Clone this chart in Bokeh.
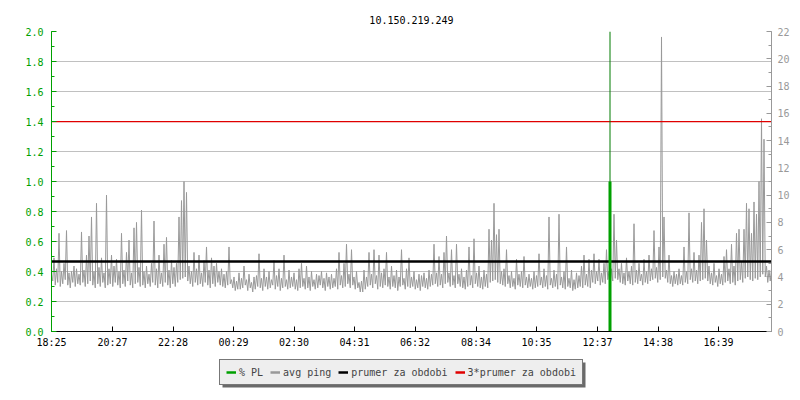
from bokeh.plotting import figure
from bokeh.layouts import column
from bokeh.models import (Range1d, LinearAxis, FixedTicker, Legend, LegendItem,
                          ColumnDataSource, CustomJSTickFormatter, BoxAnnotation)
from bokeh.embed import file_html
from bokeh.resources import INLINE

# ---------------- data ----------------
title_text = "10.150.219.249"
start_time = "18:25"
sample_step_min = 5
tick_labels = ["18:25", "20:27", "22:28", "00:29", "02:30", "04:31",
               "06:32", "08:34", "10:35", "12:37", "14:38", "16:39"]

# avg ping in ms, one sample per 5 minutes
avg_ping_ms = [
    4.2, 5.4, 4.6, 7.2, 4.4, 5.0, 7.4, 4.3, 4.4, 4.8, 4.6, 4.2,
    7.3, 4.5, 5.6, 7.0, 8.4, 4.4, 9.4, 4.7, 5.4, 4.3, 10.0, 4.6,
    5.6, 4.8, 5.3, 4.4, 7.2, 4.5, 5.8, 6.7, 4.3, 7.6, 8.0, 4.7,
    8.9, 4.4, 4.8, 4.2, 5.0, 8.1, 4.6, 5.6, 4.3, 6.4, 6.9, 4.5,
    5.2, 4.7, 5.0, 8.4, 9.6, 11.0, 10.2, 4.8, 4.4, 5.8, 4.6, 5.6,
    4.3, 5.2, 6.2, 4.5, 5.4, 4.8, 5.0, 4.4, 4.6, 4.2, 4.4, 6.2,
    3.8, 4.0, 3.7, 4.3, 3.9, 4.8, 3.8, 4.2, 3.6, 4.0, 4.1, 5.7,
    3.9, 4.6, 4.0, 4.4, 3.8, 5.2, 4.1, 4.6, 3.9, 5.6, 3.8, 4.5,
    4.0, 4.3, 3.8, 4.6, 5.0, 3.9, 4.8, 4.0, 4.4, 3.8, 4.2, 4.1,
    4.4, 3.9, 4.3, 4.0, 4.2, 3.9, 4.6, 5.8, 4.1, 5.0, 6.4, 4.2,
    6.0, 4.0, 4.4, 3.6, 3.7, 4.5, 4.0, 5.8, 4.2, 6.0, 4.1, 5.6,
    4.3, 4.6, 5.8, 4.0, 4.8, 4.1, 4.5, 4.0, 6.0, 3.9, 4.6, 5.4,
    4.0, 4.4, 3.8, 4.2, 4.1, 4.3, 3.9, 4.5, 4.2, 6.4, 4.3, 5.5,
    4.2, 5.8, 7.0, 4.3, 6.0, 4.1, 6.4, 4.2, 4.6, 4.0, 4.5, 6.2,
    4.1, 6.8, 4.3, 4.8, 4.0, 4.5, 4.2, 7.5, 6.7, 9.4, 7.1, 7.5,
    4.4, 4.6, 6.0, 4.1, 4.4, 3.9, 5.3, 4.2, 4.4, 5.5, 4.0, 4.2,
    3.9, 4.4, 4.1, 5.7, 4.0, 4.6, 4.1, 8.4, 3.9, 4.5, 4.2, 8.6,
    4.0, 4.4, 6.2, 3.9, 4.5, 3.8, 4.3, 4.1, 4.8, 5.6, 4.2, 5.3,
    4.5, 5.7, 4.4, 5.3, 4.3, 5.0, 6.0, 4.4, 4.6, 8.6, 6.7, 4.6,
    5.0, 4.3, 5.4, 4.4, 4.8, 7.9, 4.5, 5.0, 4.2, 5.3, 4.4, 5.6,
    4.6, 7.4, 4.7, 6.2, 21.6, 8.4, 4.5, 5.6, 4.1, 4.4, 4.2, 4.6,
    4.1, 6.2, 4.4, 8.7, 4.6, 5.8, 4.5, 5.6, 8.0, 9.0, 6.7, 4.8,
    4.3, 5.0, 4.1, 4.6, 4.2, 5.5, 6.0, 4.6, 6.4, 4.8, 7.2, 7.5,
    5.1, 7.5, 9.4, 9.0, 7.2, 9.5, 8.6, 11.0, 15.6, 14.1, 4.8, 4.5,
    4.6,
]
# lowest avg ping inside each 5-minute sample (ms)
avg_ping_min_ms = [
    3.7, 3.4, 3.6, 3.3, 3.5, 3.8, 3.4, 3.2, 3.6, 3.3, 3.5, 3.4,
    3.6, 3.3, 3.5, 3.7, 3.4, 3.2, 3.5, 3.3, 3.6, 3.2, 3.4, 3.5,
    3.3, 3.6, 3.4, 3.2, 3.5, 3.3, 3.7, 3.4, 3.2, 3.5, 3.6, 3.3,
    3.4, 3.2, 3.5, 3.3, 3.6, 3.4, 3.2, 3.5, 3.3, 3.6, 3.4, 3.2,
    3.5, 3.3, 3.6, 3.8, 3.9, 4.0, 3.7, 3.5, 3.3, 3.6, 3.4, 3.5,
    3.3, 3.6, 3.4, 3.2, 3.5, 3.3, 3.6, 3.4, 3.3, 3.2, 3.4, 3.5,
    3.2, 3.0, 3.1, 3.1, 3.2, 3.4, 3.0, 3.2, 2.9, 3.1, 3.3, 3.2,
    3.0, 3.3, 3.1, 3.2, 3.4, 3.1, 3.3, 3.0, 3.2, 3.3, 3.1, 3.2,
    3.3, 3.1, 3.0, 3.2, 3.3, 3.1, 3.2, 3.0, 3.3, 3.1, 3.2, 3.4,
    3.2, 3.0, 3.3, 3.1, 3.2, 3.3, 3.1, 3.4, 3.2, 3.3, 3.5, 3.2,
    3.4, 3.1, 3.2, 2.9, 2.9, 3.1, 3.3, 3.4, 3.2, 3.5, 3.1, 3.3,
    3.2, 3.4, 3.3, 3.1, 3.3, 3.2, 3.0, 3.3, 3.4, 3.1, 3.3, 3.2,
    3.3, 3.1, 3.2, 3.0, 3.3, 3.2, 3.1, 3.3, 3.4, 3.5, 3.3, 3.4,
    3.2, 3.5, 3.6, 3.3, 3.4, 3.2, 3.5, 3.3, 3.2, 3.1, 3.3, 3.4,
    3.2, 3.5, 3.3, 3.2, 3.1, 3.3, 3.2, 3.6, 3.7, 3.8, 3.6, 3.5,
    3.4, 3.3, 3.5, 3.2, 3.3, 3.1, 3.4, 3.3, 3.2, 3.4, 3.2, 3.3,
    3.1, 3.2, 3.3, 3.4, 3.2, 3.3, 3.1, 3.4, 3.2, 3.3, 3.1, 3.4,
    3.2, 3.1, 3.3, 3.2, 3.0, 3.1, 3.2, 3.3, 3.2, 3.4, 3.3, 3.2,
    3.6, 3.5, 3.7, 3.4, 3.6, 3.5, 3.8, 3.5, 3.7, 3.9, 3.8, 3.6,
    3.5, 3.4, 3.7, 3.5, 3.4, 3.6, 3.5, 3.7, 3.4, 3.6, 3.5, 3.7,
    3.8, 3.9, 3.6, 3.8, 4.0, 3.9, 3.6, 3.5, 3.3, 3.5, 3.4, 3.5,
    3.4, 3.6, 3.5, 3.8, 3.6, 3.7, 3.5, 3.7, 3.8, 3.9, 3.7, 3.5,
    3.4, 3.6, 3.3, 3.5, 3.4, 3.6, 3.7, 3.5, 3.6, 3.4, 3.7, 3.8,
    3.6, 3.9, 4.0, 3.8, 3.7, 3.9, 3.8, 4.0, 4.2, 4.0, 3.6, 3.7,
    3.8,
]
avg_ping_mean_ms = 5.13          # prumer za obdobi
pl_times = ["13:02"]             # packet loss events
pl_values = [1.0]                # % PL

series_labels = ["% PL", "avg ping", "prumer za obdobi", "3*prumer za obdobi"]

left_max = 2.0
right_max = 22.0
left_ticks = [0.0, 0.2, 0.4, 0.6, 0.8, 1.0, 1.2, 1.4, 1.6, 1.8, 2.0]
left_minor = [round(i * 0.1, 1) for i in range(21)]
right_ticks = [0, 2, 4, 6, 8, 10, 12, 14, 16, 18, 20, 22]
right_minor = list(range(23))

# ---------------- helpers ----------------
def minutes_since_start(hhmm):
    h, m = map(int, hhmm.split(":"))
    sh, sm = map(int, start_time.split(":"))
    return ((h * 60 + m) - (sh * 60 + sm)) % 1440

# each 5-min sample: its value, then its minimum half a step later
ping_x, ping_y = [], []
for i, (v, lo) in enumerate(zip(avg_ping_ms, avg_ping_min_ms)):
    t = i * sample_step_min
    ping_x += [t, t + sample_step_min / 2]
    ping_y += [v, lo]
x_end = (len(avg_ping_ms) - 1) * sample_step_min

tick_pos = [minutes_since_start(t) for t in tick_labels]
pl_x = [minutes_since_start(t) for t in pl_times]

FONT = "DejaVu Sans Mono"
FS = "10px"
GREEN = "#00a000"
GRAY = "#999999"
RED = "#e00000"
STYLES = [(GREEN, 2.5), (GRAY, 2.5), ("black", 2.5), (RED, 2.5)]

p = figure(width=800, height=350, output_backend="svg", toolbar_location=None,
           x_range=Range1d(0, x_end), y_range=Range1d(0, left_max),
           min_border_left=51, min_border_right=29, min_border_top=31,
           min_border_bottom=19, outline_line_color=None)
p.title.text = title_text
p.title.align = "center"
p.title.text_font = FONT
p.title.text_font_size = FS
p.title.text_font_style = "normal"
p.title.text_color = "black"
p.title.standoff = 16

p.extra_y_ranges = {"ms": Range1d(0, right_max)}

# grid
p.xgrid.visible = False
p.ygrid.ticker = FixedTicker(ticks=left_ticks)
p.ygrid.grid_line_color = "#c0c0c0"

# left axis
la = p.yaxis[0]
la.ticker = FixedTicker(ticks=left_ticks, minor_ticks=left_minor)
la.formatter = CustomJSTickFormatter(code="return tick.toFixed(1);")
la.axis_line_color = GREEN
la.major_tick_line_color = GREEN
la.minor_tick_line_color = GREEN
la.major_label_text_color = GREEN
la.major_tick_in = 5
la.major_tick_out = 0
la.minor_tick_in = 3
la.minor_tick_out = 0
la.major_label_text_font = FONT
la.major_label_text_font_size = FS
la.major_label_standoff = 8

# right axis
ra = LinearAxis(y_range_name="ms",
                ticker=FixedTicker(ticks=right_ticks, minor_ticks=right_minor))
ra.axis_line_color = GRAY
ra.major_tick_line_color = GRAY
ra.minor_tick_line_color = GRAY
ra.major_label_text_color = GRAY
ra.major_tick_in = 5
ra.major_tick_out = 0
ra.minor_tick_in = 3
ra.minor_tick_out = 0
ra.major_label_text_font = FONT
ra.major_label_text_font_size = FS
ra.major_label_standoff = 6
p.add_layout(ra, "right")

# bottom axis
xa = p.xaxis[0]
xa.ticker = FixedTicker(ticks=tick_pos, minor_ticks=[])
xa.major_label_overrides = {tp: lab for tp, lab in zip(tick_pos, tick_labels)}
xa.axis_line_color = "black"
xa.major_tick_line_color = "black"
xa.major_tick_in = 5
xa.major_tick_out = 0
xa.minor_tick_line_color = None
xa.major_label_text_font = FONT
xa.major_label_text_font_size = FS
xa.major_label_text_color = "black"
xa.major_label_standoff = 5

# series
p.line(ping_x, ping_y, y_range_name="ms", line_color=GRAY, line_width=1)
mean_src = ColumnDataSource(dict(x=[0, x_end], y=[avg_ping_mean_ms] * 2,
                                 y3=[3 * avg_ping_mean_ms] * 2))
p.line("x", "y", source=mean_src, y_range_name="ms", line_color="black", line_width=2.5)
p.line("x", "y3", source=mean_src, y_range_name="ms", line_color=RED, line_width=1.2)
p.segment(x0=pl_x, x1=pl_x, y0=[0] * len(pl_x), y1=[left_max] * len(pl_x),
          line_color="#007a00", line_width=1)
p.segment(x0=pl_x, x1=pl_x, y0=[0] * len(pl_x), y1=pl_values,
          line_color=GREEN, line_width=3)

# ---------------- legend strip below the chart ----------------
lg = figure(width=800, height=50, output_backend="svg", toolbar_location=None,
            x_range=Range1d(0, 1), y_range=Range1d(0, 1),
            x_axis_type=None, y_axis_type=None,
            min_border_left=0, min_border_right=0, min_border_top=0,
            min_border_bottom=0, outline_line_color=None)
lg.grid.visible = False

items = []
for lab, (col, w) in zip(series_labels, STYLES):
    r = lg.line([-5, -4], [-5, -4], line_color=col, line_width=w)
    items.append(LegendItem(label=lab, renderers=[r]))

# drop shadow of the legend box (screen units, relative to the strip's frame)
lg.add_layout(BoxAnnotation(left=171, right=534, top=13, bottom=38,
                            left_units="screen", right_units="screen",
                            top_units="screen", bottom_units="screen",
                            fill_color="#6a6a6a", fill_alpha=1, line_color=None))

leg = Legend(items=items, orientation="horizontal", location=(168, 15))
leg.label_text_font = FONT
leg.label_text_font_size = FS
leg.label_height = 12
leg.glyph_width = 10
leg.glyph_height = 12
leg.label_standoff = 3
leg.spacing = 7
leg.padding = 6
leg.margin = 0
leg.border_line_color = "black"
leg.border_line_width = 1
leg.background_fill_color = "#eeeeee"
leg.background_fill_alpha = 1
lg.add_layout(leg, "center")

open("out.html", "w").write(file_html(column(p, lg, spacing=0), INLINE))
